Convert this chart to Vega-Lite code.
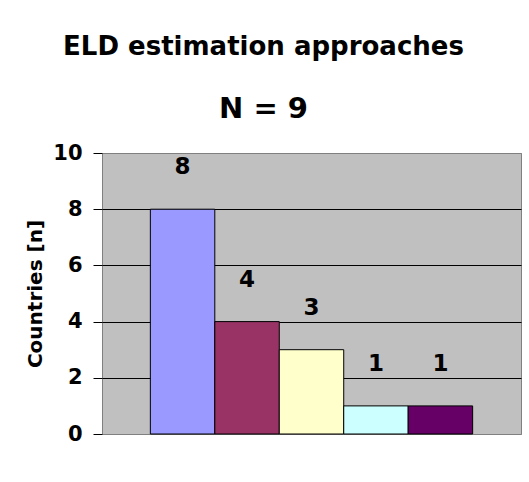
{
  "$schema": "https://vega.github.io/schema/vega-lite/v6.json",
  "width": 419,
  "height": 281,
  "autosize": {"type": "none"},
  "padding": {"left": 102, "top": 153, "right": 8, "bottom": 48},
  "background": "white",
  "title": {
    "text": "ELD estimation approaches",
    "subtitle": "N = 9",
    "font": "DejaVu Sans",
    "fontSize": 26,
    "fontWeight": "bold",
    "color": "black",
    "subtitleFont": "DejaVu Sans",
    "subtitleFontSize": 29,
    "subtitleFontWeight": "bold",
    "subtitleColor": "black",
    "anchor": "middle",
    "dx": -48,
    "offset": 18,
    "subtitlePadding": 35
  },
  "data": {
    "values": [
      {"approach": "Approach 1", "countries": 8},
      {"approach": "Approach 2", "countries": 4},
      {"approach": "Approach 3", "countries": 3},
      {"approach": "Approach 4", "countries": 1},
      {"approach": "Approach 5", "countries": 1}
    ]
  },
  "encoding": {
    "x": {
      "field": "approach",
      "type": "nominal",
      "sort": null,
      "axis": null,
      "scale": {"paddingInner": 0, "paddingOuter": 0.75}
    },
    "y": {
      "field": "countries",
      "type": "quantitative",
      "scale": {"domain": [0, 10], "nice": false},
      "axis": {
        "title": "Countries [n]",
        "titleFont": "DejaVu Sans",
        "titleFontSize": 20,
        "titleFontWeight": "bold",
        "titleColor": "black",
        "titlePadding": 7,
        "values": [0, 2, 4, 6, 8, 10],
        "labelFont": "DejaVu Sans",
        "labelFontSize": 21,
        "labelFontWeight": "bold",
        "labelColor": "black",
        "labelPadding": 11,
        "tickSize": 9,
        "tickColor": "black",
        "domain": false,
        "grid": true,
        "gridColor": {"condition": {"test": "datum.value === 10 || datum.value === 0", "value": "#808080"}, "value": "black"},
        "gridWidth": 1,
        "gridOpacity": 1
      }
    }
  },
  "layer": [
    {
      "mark": {"type": "bar", "stroke": "black", "strokeWidth": 1},
      "encoding": {
        "color": {
          "field": "approach",
          "type": "nominal",
          "sort": null,
          "scale": {"range": ["#9999FF", "#993366", "#FFFFCC", "#CCFFFF", "#660066"]},
          "legend": null
        }
      }
    },
    {
      "mark": {"type": "text", "dy": -42, "font": "DejaVu Sans", "fontSize": 23, "fontWeight": "bold", "color": "black"},
      "encoding": {"text": {"field": "countries", "type": "quantitative"}}
    }
  ],
  "config": {
    "view": {"fill": "#C0C0C0", "stroke": "#808080", "strokeWidth": 1}
  }
}
